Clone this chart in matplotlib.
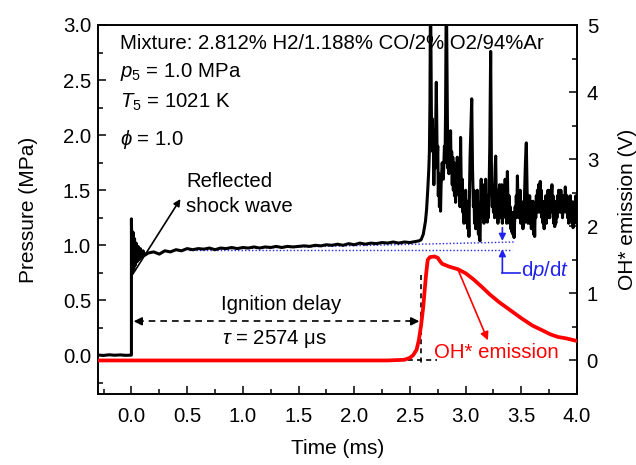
import matplotlib
matplotlib.use("Agg")
import matplotlib.pyplot as plt
from matplotlib.ticker import MultipleLocator

plt.rcParams['font.family'] = ['Liberation Sans', 'DejaVu Sans']
plt.rcParams['mathtext.fontset'] = 'custom'
plt.rcParams['mathtext.rm'] = 'Liberation Sans'
plt.rcParams['mathtext.it'] = 'Liberation Sans:italic'
plt.rcParams['mathtext.fallback'] = 'stix'

# ---------------- data ----------------
# pressure trace (MPa) vs time (ms)
t_pre = [-0.30, -0.25, -0.20, -0.15, -0.10, -0.05, -0.003]
p_pre = [0.004, 0.000, 0.006, 0.002, 0.005, 0.001, 0.003]

t_shock = [0.0, 0.0, 0.007, 0.014, 0.021, 0.028, 0.035, 0.043, 0.051, 0.060, 0.070, 0.080,
           0.092, 0.105, 0.12]
p_shock = [0.003, 1.24, 0.74, 1.12, 0.78, 1.06, 0.82, 1.02, 0.85, 0.99, 0.87, 0.97,
           0.89, 0.95, 0.91]

t_flat = [0.15, 0.20, 0.25, 0.30, 0.35, 0.40, 0.45, 0.50, 0.55, 0.60, 0.65, 0.70, 0.75,
          0.80, 0.85, 0.90, 0.95, 1.00, 1.05, 1.10, 1.15, 1.20, 1.25, 1.30, 1.35, 1.40,
          1.45, 1.50, 1.55, 1.60, 1.65, 1.70, 1.75, 1.80, 1.85, 1.90, 1.95, 2.00, 2.05,
          2.10, 2.15, 2.20, 2.25, 2.30, 2.35, 2.40, 2.45, 2.50, 2.55]
p_flat = [0.93, 0.94, 0.92, 0.95, 0.94, 0.96, 0.95, 0.97, 0.96, 0.97, 0.965, 0.975, 0.96,
          0.975, 0.97, 0.98, 0.97, 0.98, 0.975, 0.985, 0.975, 0.985, 0.98, 0.99, 0.98, 0.99,
          0.985, 0.99, 0.995, 0.99, 1.0, 0.995, 1.005, 1.0, 1.01, 1.0, 1.015, 1.005, 1.02,
          1.01, 1.02, 1.015, 1.025, 1.02, 1.03, 1.02, 1.03, 1.025, 1.035]

t_ign = [2.58, 2.60, 2.62, 2.64, 2.65, 2.66, 2.67, 2.675, 2.68, 2.685, 2.69, 2.695, 2.70,
         2.705, 2.71, 2.715, 2.72, 2.725, 2.73, 2.737, 2.745, 2.75, 2.755, 2.76, 2.765, 2.77,
         2.775, 2.78, 2.79, 2.80, 2.81, 2.815, 2.82, 2.827, 2.835, 2.84, 2.845, 2.85, 2.855,
         2.86, 2.865, 2.87, 2.875, 2.88, 2.885, 2.89, 2.895, 2.90, 2.905, 2.91, 2.915, 2.92,
         2.925, 2.93, 2.935, 2.94, 2.945, 2.95, 2.955, 2.96, 2.965, 2.97, 2.975, 2.98, 2.985,
         2.99, 2.995, 3.0, 3.005, 3.01, 3.015, 3.02, 3.025, 3.03, 3.035, 3.04, 3.048, 3.055,
         3.062, 3.07, 3.075, 3.08, 3.085, 3.09, 3.095, 3.10, 3.105, 3.11, 3.115, 3.12, 3.125,
         3.13, 3.135, 3.14, 3.145, 3.15, 3.155, 3.16, 3.165, 3.17, 3.175, 3.18, 3.185, 3.19,
         3.195, 3.2, 3.205, 3.21, 3.217, 3.225, 3.232, 3.24, 3.245, 3.25, 3.255, 3.26, 3.265,
         3.27, 3.275, 3.28, 3.285, 3.29, 3.295, 3.30, 3.305, 3.31, 3.315, 3.32, 3.325, 3.33,
         3.335, 3.34, 3.345, 3.35, 3.355, 3.36, 3.365, 3.37, 3.375, 3.38, 3.385, 3.39, 3.395,
         3.40, 3.405, 3.41, 3.415, 3.42, 3.425, 3.43, 3.435, 3.44, 3.445, 3.45, 3.455, 3.46,
         3.465, 3.47, 3.475, 3.48, 3.485, 3.49, 3.495, 3.50, 3.505, 3.51, 3.515, 3.52, 3.525,
         3.53, 3.537, 3.545, 3.552, 3.56, 3.565, 3.57, 3.575, 3.58, 3.585, 3.59, 3.595, 3.60,
         3.605, 3.61, 3.615, 3.62, 3.625, 3.63, 3.635, 3.64, 3.645, 3.65, 3.655, 3.66, 3.665,
         3.67, 3.675, 3.68, 3.685, 3.69, 3.695, 3.70, 3.705, 3.71, 3.715, 3.72, 3.725, 3.73,
         3.735, 3.74, 3.745, 3.75, 3.755, 3.76, 3.765, 3.77, 3.775, 3.78, 3.785, 3.79, 3.795,
         3.80, 3.805, 3.81, 3.815, 3.82, 3.825, 3.83, 3.835, 3.84, 3.845, 3.85, 3.855, 3.86,
         3.865, 3.87, 3.875, 3.88, 3.885, 3.89, 3.895, 3.90, 3.905, 3.91, 3.915, 3.92, 3.925,
         3.93, 3.935, 3.94, 3.945, 3.95, 3.955, 3.96, 3.965, 3.97, 3.975, 3.98, 3.985, 3.99,
         3.995, 4.0]
p_ign = [1.04, 1.05, 1.10, 1.22, 1.33, 1.50, 1.70, 1.85, 2.3, 3.4, 2.6, 1.9, 2.15,
         1.85, 2.05, 1.55, 1.9, 1.7, 2.0, 2.48, 1.75, 1.9, 1.45, 1.65, 1.35, 1.6,
         1.31, 1.55, 1.75, 1.6, 1.9, 1.75, 2.2, 3.4, 2.3, 1.7, 2.0, 1.65, 1.95,
         1.75, 2.04, 1.7, 1.85, 1.55, 1.8, 1.5, 1.75, 1.45, 1.6, 1.39, 1.65, 1.5,
         1.8, 1.55, 1.7, 1.45, 1.6, 1.35, 1.98, 1.6, 1.45, 1.6, 1.3, 1.45, 1.2,
         1.4, 1.25, 1.5, 1.3, 1.2, 1.4, 1.15, 1.3, 1.08, 1.5, 1.8, 2.1, 2.33,
         1.7, 1.35, 1.5, 1.2, 1.35, 1.15, 1.4, 1.2, 1.5, 1.25, 1.1, 1.3, 1.05,
         1.04, 1.4, 1.6, 1.3, 1.55, 1.25, 1.5, 1.2, 1.55, 1.3, 1.6, 1.25, 1.45,
         1.21, 1.4, 1.25, 1.45, 1.9, 2.76, 1.7, 1.35, 1.55, 1.3, 1.5, 1.25, 1.7,
         1.81, 1.45, 1.3, 1.5, 1.2, 1.45, 1.3, 1.55, 1.25, 1.5, 1.3, 1.55, 1.2,
         1.45, 1.25, 1.5, 1.3, 1.6, 1.35, 1.5, 1.2, 1.67, 1.4, 1.3, 1.45, 1.2,
         1.35, 1.15, 1.3, 1.12, 1.25, 1.1, 1.3, 1.07, 1.2, 1.35, 1.25, 1.45, 1.3,
         1.63, 1.4, 1.25, 1.45, 1.3, 1.5, 1.2, 1.4, 1.25, 1.35, 1.15, 1.35, 1.2,
         1.5, 1.75, 1.93, 1.5, 1.2, 1.4, 1.25, 1.45, 1.2, 1.4, 1.15, 1.35, 1.2,
         1.4, 1.1, 1.3, 1.08, 1.35, 1.25, 1.45, 1.3, 1.5, 1.35, 1.55, 1.3, 1.45,
         1.58, 1.35, 1.5, 1.25, 1.4, 1.2, 1.35, 1.15, 1.4, 1.25, 1.45, 1.2, 1.4,
         1.25, 1.5, 1.3, 1.45, 1.25, 1.5, 1.35, 1.45, 1.55, 1.3, 1.45, 1.2, 1.35,
         1.17, 1.3, 1.2, 1.4, 1.25, 1.45, 1.3, 1.5, 1.35, 1.45, 1.3, 1.5, 1.35,
         1.45, 1.25, 1.4, 1.3, 1.45, 1.35, 1.53, 1.4, 1.3, 1.45, 1.25, 1.4, 1.2,
         1.35, 1.25, 1.45, 1.3, 1.4, 1.2, 1.35, 1.16, 1.3, 1.25, 1.4, 1.35, 1.45,
         1.2, 1.35]

# OH* emission (V)
t_oh = [-0.30, 2.30, 2.45, 2.50, 2.53, 2.56, 2.58, 2.60, 2.62, 2.63, 2.645, 2.66, 2.68,
        2.72, 2.75, 2.77, 2.79, 2.85, 2.93, 3.00, 3.07, 3.15, 3.22, 3.30, 3.40, 3.50,
        3.60, 3.70, 3.76, 3.83, 3.90, 4.00]
v_oh = [0.0, 0.0, 0.01, 0.04, 0.08, 0.16, 0.30, 0.52, 0.80, 1.00, 1.28, 1.50, 1.54,
        1.55, 1.53, 1.48, 1.44, 1.40, 1.36, 1.30, 1.21, 1.09, 0.98, 0.87, 0.75, 0.63,
        0.52, 0.44, 0.39, 0.35, 0.33, 0.29]

# dp/dt guide lines (MPa)
trend_t = [0.52, 3.44]
trend_p = [0.962, 1.03]
base_t = [0.52, 3.42]
base_p = [0.957, 0.957]

x_ticks = [0.0, 0.5, 1.0, 1.5, 2.0, 2.5, 3.0, 3.5, 4.0]
y_ticks = [0.0, 0.5, 1.0, 1.5, 2.0, 2.5, 3.0]
y2_ticks = [0, 1, 2, 3, 4, 5]

FS = 14.7

# ---------------- figure ----------------
fig = plt.figure(figsize=(6.36, 4.65), dpi=100)
ax = fig.add_axes([98 / 636, 1 - 394 / 465, (577 - 98) / 636, (394 - 25) / 465])
ax2 = ax.twinx()

t_all = t_pre + t_shock + t_flat + t_ign
p_all = p_pre + p_shock + p_flat + p_ign
blue = '#2222ee'
ax.plot(base_t, base_p, color=blue, lw=1.0, ls=(0, (1, 1.5)), zorder=2)
ax.plot(trend_t, trend_p, color=blue, lw=1.0, ls=(0, (1, 1.5)), zorder=2)
ax.plot(t_all, p_all, color='black', lw=2.2, zorder=3)

ax.set_xlim(-0.3, 4.0)
ax.set_ylim(-0.35, 3.0)
ax2.set_ylim(-0.5, 5.0)

ax2.plot(t_oh, v_oh, color='#ff0000', lw=2.7, zorder=3)

for a in (ax, ax2):
    for s in a.spines.values():
        s.set_linewidth(1.2)

ax.set_xticks(x_ticks)
ax.set_yticks(y_ticks)
ax2.set_yticks(y2_ticks)
ax.xaxis.set_minor_locator(MultipleLocator(0.25))
ax.yaxis.set_minor_locator(MultipleLocator(0.25))
ax2.yaxis.set_minor_locator(MultipleLocator(0.5))
ax.set_xticklabels([f"{v:.1f}" for v in x_ticks])
ax.set_yticklabels([f"{v:.1f}" for v in y_ticks])
ax2.set_yticklabels([f"{v:d}" for v in y2_ticks])

ax.tick_params(which='major', direction='in', length=6, width=1.1, labelsize=FS,
               top=False, right=False)
ax.tick_params(axis='x', which='major', pad=9)
ax.tick_params(axis='y', which='major', pad=5)
ax.tick_params(which='minor', direction='in', length=3.5, width=1.1, top=False, right=False)
ax2.tick_params(which='major', direction='in', length=6, width=1.1, labelsize=FS, pad=7)
ax2.tick_params(which='minor', direction='in', length=3.5, width=1.1)

ax.set_xlabel('Time (ms)', fontsize=15, labelpad=10)
ax.set_ylabel('Pressure (MPa)', fontsize=15, labelpad=18)
ax2.set_ylabel('OH* emission (V)', fontsize=15, labelpad=14)

# ------------- annotations -------------
ax.text(-0.10, 2.83, 'Mixture: 2.812% H2/1.188% CO/2% O2/94%Ar', fontsize=FS, va='center')
ax.text(-0.10, 2.57, r'$p_5$ = 1.0 MPa', fontsize=FS, va='center')
ax.text(-0.10, 2.30, r'$T_5$ = 1021 K', fontsize=FS, va='center')
ax.text(-0.10, 1.96, r'$\phi$ = 1.0', fontsize=FS, va='center')

ax.text(0.49, 1.58, 'Reflected', fontsize=FS, va='center')
ax.text(0.49, 1.35, 'shock wave', fontsize=FS, va='center')
ax.annotate('', xy=(0.44, 1.42), xytext=(0.02, 0.75),
            arrowprops=dict(arrowstyle='-|>', color='black', lw=1.2, mutation_scale=10,
                            shrinkA=0, shrinkB=0))

ax.text(1.34, 0.46, 'Ignition delay', fontsize=FS, ha='center', va='center')
ax.text(1.28, 0.145, r'$\tau$ = 2574 μs', fontsize=FS, ha='center', va='center')
ax.plot([0.05, 2.53], [0.31, 0.31], color='black', lw=1.2, ls=(0, (4, 3)))
ax.annotate('', xy=(0.02, 0.31), xytext=(0.10, 0.31),
            arrowprops=dict(arrowstyle='-|>', color='black', lw=1.2, mutation_scale=12,
                            shrinkA=0, shrinkB=0))
ax.annotate('', xy=(2.585, 0.31), xytext=(2.50, 0.31),
            arrowprops=dict(arrowstyle='-|>', color='black', lw=1.2, mutation_scale=12,
                            shrinkA=0, shrinkB=0))

# tangent construction (right axis units)
ax2.plot([2.60, 2.60], [1.27, -0.05], color='black', lw=1.2, ls=(0, (3, 2.5)))
ax2.plot([2.07, 2.74], [0.0, 0.0], color='black', lw=1.2, ls=(0, (3, 2.5)))

ax2.text(2.72, 0.12, 'OH* emission', fontsize=FS, color='#ff0000', va='center')
ax2.annotate('', xy=(3.2, 0.3), xytext=(2.93, 1.36),
             arrowprops=dict(arrowstyle='-|>', color='#ff0000', lw=1.2, mutation_scale=12,
                             shrinkA=0, shrinkB=0))

# dp/dt marker
ax.annotate('', xy=(3.33, 1.04), xytext=(3.33, 1.16),
            arrowprops=dict(arrowstyle='-|>', color=blue, lw=1.2, mutation_scale=10,
                            shrinkA=0, shrinkB=0))
ax.annotate('', xy=(3.33, 0.965), xytext=(3.33, 0.75),
            arrowprops=dict(arrowstyle='-|>', color=blue, lw=1.2, mutation_scale=10,
                            shrinkA=0, shrinkB=0))
ax.plot([3.33, 3.49], [0.75, 0.75], color=blue, lw=1.2)
ax.text(3.50, 0.775, r'd$\it{p}$/d$\it{t}$', fontsize=FS, color=blue, va='center')

fig.savefig('out.png', dpi=100)
